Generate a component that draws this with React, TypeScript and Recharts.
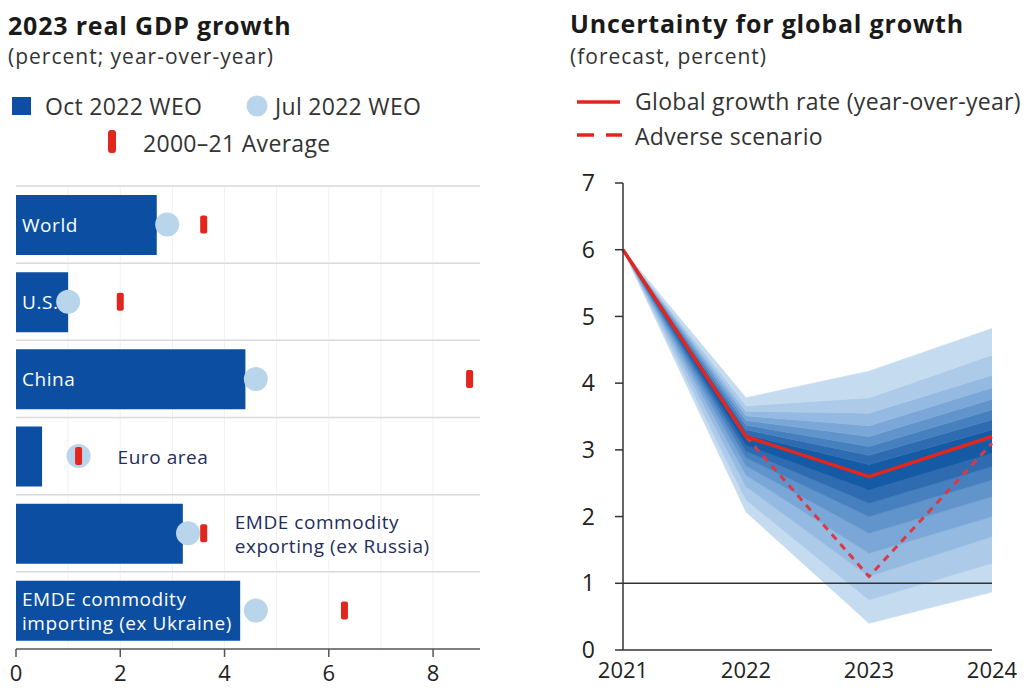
import React from 'react';
import {
  ComposedChart,
  Bar,
  Scatter,
  Area,
  Line,
  XAxis,
  YAxis,
  CartesianGrid,
  ReferenceLine,
  LabelList,
} from 'recharts';

const FONT = '"Open Sans", Lato, sans-serif';
const BAR_BLUE = '#0B4EA2';
const DOT_BLUE = '#B9D5EC';
const RED = '#E2261E';
const NAVY = '#1F2D5C';

// ---- 2023 real GDP growth ----
const categories = [
  'World',
  'U.S.',
  'China',
  'Euro area',
  'EMDE commodity\nexporting (ex Russia)',
  'EMDE commodity\nimporting (ex Ukraine)',
];
const oct2022Weo = [2.7, 1.0, 4.4, 0.5, 3.2, 4.3];
const jul2022Weo = [2.9, 1.0, 4.6, 1.2, 3.3, 4.6];
const avg2000to21 = [3.6, 2.0, 8.7, 1.2, 3.6, 6.3];
const labelsOutside = ['Euro area', 'EMDE commodity\nexporting (ex Russia)'];
const gdpTicks = [0, 2, 4, 6, 8];
const gdpGrid = [1, 2, 3, 4, 5, 6, 7, 8];
const GDP_MAX = 8.9;

// ---- Uncertainty for global growth ----
const years = [2021, 2022, 2023, 2024];
const growthTicks = [0, 1, 2, 3, 4, 5, 6, 7];
const globalGrowth = [6.0, 3.2, 2.6, 3.2];
const adverseScenario = [null, 3.2, 1.1, 3.1];
// fan edges, lowest to highest
const fanEdges = [
  [6.0, 2.07, 0.4, 0.87],
  [6.0, 2.25, 0.75, 1.3],
  [6.0, 2.45, 1.1, 1.7],
  [6.0, 2.62, 1.45, 2.0],
  [6.0, 2.76, 1.75, 2.3],
  [6.0, 2.88, 2.0, 2.55],
  [6.0, 2.98, 2.2, 2.75],
  [6.0, 3.07, 2.4, 2.95],
  [6.0, 3.16, 2.62, 3.16],
  [6.0, 3.23, 2.78, 3.3],
  [6.0, 3.3, 2.92, 3.45],
  [6.0, 3.37, 3.05, 3.6],
  [6.0, 3.44, 3.2, 3.76],
  [6.0, 3.51, 3.36, 3.93],
  [6.0, 3.58, 3.55, 4.12],
  [6.0, 3.66, 3.78, 4.42],
  [6.0, 3.78, 4.18, 4.82],
];
// outer to inner
const fanShades = ['#C5DBF0', '#ADCBE9', '#94BAE1', '#7AA7D7', '#6094CB', '#4780BF', '#2E6BB1', '#155AA5'];

const gdpData = categories.map((name, i) => ({
  name,
  oct: oct2022Weo[i],
  jul: jul2022Weo[i],
  avg: avg2000to21[i],
}));

const bandCount = fanEdges.length - 1;
const fanData = years.map((year, i) => {
  const row: any = { year, baseline: globalGrowth[i], adverse: adverseScenario[i] };
  for (let k = 0; k < bandCount; k++) {
    row[`band${k}`] = [fanEdges[k][i], fanEdges[k + 1][i]];
  }
  return row;
});

const bandColor = (k: number) => {
  const half = bandCount / 2;
  const depth = k < half ? k : bandCount - 1 - k;
  return fanShades[depth];
};

const BarLabel = (props: any) => {
  const { x, y, width, height, index } = props;
  const name = categories[index];
  const lines = name.split('\n');
  const cy = y + height / 2;
  let tx = x + 6;
  let fill = '#FFFFFF';
  if (labelsOutside.includes(name)) {
    const perUnit = width / oct2022Weo[index];
    const dotRight = x + jul2022Weo[index] * perUnit + 12;
    const tickRight = x + avg2000to21[index] * perUnit + 4;
    tx = Math.max(dotRight, tickRight) + 27;
    fill = NAVY;
  }
  const step = 24;
  const first = cy - ((lines.length - 1) * step) / 2;
  return (
    <text
      x={tx}
      fontFamily={FONT}
      fontSize={19}
      letterSpacing={0.55}
      fill={fill}
      dominantBaseline="central"
    >
      {lines.map((ln: string, j: number) => (
        <tspan key={j} x={tx} y={first + j * step}>
          {ln}
        </tspan>
      ))}
    </text>
  );
};

const DotMark = (p: any) => <circle cx={p.cx} cy={p.cy} r={12} fill={DOT_BLUE} />;
const AvgMark = (p: any) => (
  <rect x={p.cx - 3.5} y={p.cy - 9} width={7} height={18} rx={2} fill={RED} />
);

const unitLines = ({ xAxis, offset }: any) =>
  gdpGrid.map((v) =>
    xAxis && typeof xAxis.scale === 'function'
      ? xAxis.scale(v)
      : offset.left + (v / GDP_MAX) * offset.width
  );

const groupLines = ({ offset }: any) =>
  categories.map((_, i) => offset.top + (i * offset.height) / categories.length);

function GdpChart() {
  return (
    <ComposedChart
      layout="vertical"
      width={500}
      height={518}
      data={gdpData}
      margin={{ top: 16, right: 20, bottom: 0, left: 16 }}
    >
      {/* faint unit lines behind the bars */}
      <CartesianGrid horizontal={false} stroke="#F1F1F1" verticalCoordinatesGenerator={unitLines} />
      {/* separators between the groups */}
      <CartesianGrid
        vertical={false}
        stroke="#DADADA"
        strokeWidth={1.5}
        horizontalCoordinatesGenerator={groupLines}
      />
      <XAxis
        type="number"
        domain={[0, GDP_MAX]}
        ticks={gdpTicks}
        height={39}
        tickSize={8}
        tickMargin={8}
        axisLine={{ stroke: '#555', strokeWidth: 1.5 }}
        tickLine={{ stroke: '#555', strokeWidth: 1.5 }}
        tick={{ fill: '#222', fontSize: 22, fontFamily: FONT }}
      />
      <YAxis
        type="category"
        dataKey="name"
        width={0}
        tick={false}
        tickLine={false}
        axisLine={{ stroke: '#333', strokeWidth: 1.5 }}
      />
      <Bar dataKey="oct" fill={BAR_BLUE} barSize={60} isAnimationActive={false}>
        <LabelList dataKey="name" content={BarLabel} />
      </Bar>
      <Scatter dataKey="jul" shape={DotMark} isAnimationActive={false} />
      <Scatter dataKey="avg" shape={AvgMark} isAnimationActive={false} />
    </ComposedChart>
  );
}

function FanChart() {
  return (
    <ComposedChart
      width={484}
      height={528}
      data={fanData}
      margin={{ top: 23, right: 32, bottom: 8, left: 0 }}
    >
      <XAxis
        dataKey="year"
        type="number"
        domain={[2021, 2024]}
        ticks={years}
        height={30}
        tickLine={false}
        tickMargin={6}
        axisLine={{ stroke: '#333', strokeWidth: 1.5 }}
        tick={{ fill: '#222', fontSize: 22, fontFamily: FONT }}
      />
      <YAxis
        type="number"
        domain={[0, 7]}
        ticks={growthTicks}
        width={83}
        tickSize={8}
        tickMargin={20}
        axisLine={{ stroke: '#333', strokeWidth: 1.5 }}
        tickLine={{ stroke: '#333', strokeWidth: 1.5 }}
        tick={{ fill: '#222', fontSize: 23, fontFamily: FONT }}
      />
      {fanEdges.slice(1).map((_, k) => (
        <Area
          key={k}
          type="linear"
          dataKey={`band${k}`}
          fill={bandColor(k)}
          fillOpacity={1}
          stroke={bandColor(k)}
          strokeWidth={0.6}
          dot={false}
          activeDot={false}
          isAnimationActive={false}
        />
      ))}
      <ReferenceLine y={1} stroke="#333" strokeWidth={1.5} />
      <Line
        type="linear"
        dataKey="adverse"
        stroke="#DB3A45"
        strokeWidth={3}
        strokeDasharray="7 6"
        dot={false}
        isAnimationActive={false}
      />
      <Line
        type="linear"
        dataKey="baseline"
        stroke={RED}
        strokeWidth={3.5}
        dot={false}
        isAnimationActive={false}
      />
    </ComposedChart>
  );
}

function Headings() {
  const t = { fontFamily: FONT, fill: '#1A1A1A' };
  const sub = { ...t, fill: '#333', fontSize: 21, letterSpacing: 1 };
  const leg = { ...t, fill: '#333', fontSize: 23, letterSpacing: 0.3 };
  const head = { ...t, fontSize: 25, fontWeight: 700, letterSpacing: 0.8 };
  return (
    <svg width={1024} height={688} style={{ position: 'absolute', left: 0, top: 0, pointerEvents: 'none' }}>
      <text x={8} y={35} {...head}>2023 real GDP growth</text>
      <text x={8} y={64} {...sub}>(percent; year-over-year)</text>
      <rect x={12} y={97} width={19} height={18} fill={BAR_BLUE} />
      <text x={45} y={115} {...leg}>Oct 2022 WEO</text>
      <circle cx={257} cy={106} r={10.5} fill={DOT_BLUE} />
      <text x={275} y={115} {...leg}>Jul 2022 WEO</text>
      <rect x={108} y={130} width={8} height={23} rx={3} fill={RED} />
      <text x={143} y={152} {...leg}>2000–21 Average</text>

      <text x={570} y={33} {...head}>Uncertainty for global growth</text>
      <text x={570} y={64} {...sub}>(forecast, percent)</text>
      <line x1={577} x2={620} y1={102} y2={102} stroke={RED} strokeWidth={3.5} />
      <text x={635} y={110} {...leg}>Global growth rate (year-over-year)</text>
      <line x1={577} x2={622} y1={135} y2={135} stroke={RED} strokeWidth={3.5} strokeDasharray="17 12" />
      <text x={635} y={145} {...leg}>Adverse scenario</text>
    </svg>
  );
}

export default function App() {
  return (
    <div style={{ position: 'absolute', left: 0, top: 0, width: 1024, height: 688, background: '#fff', fontFamily: FONT }}>
      <div style={{ position: 'absolute', left: 0, top: 170 }}>
        <GdpChart />
      </div>
      <div style={{ position: 'absolute', left: 540, top: 160 }}>
        <FanChart />
      </div>
      <Headings />
    </div>
  );
}
